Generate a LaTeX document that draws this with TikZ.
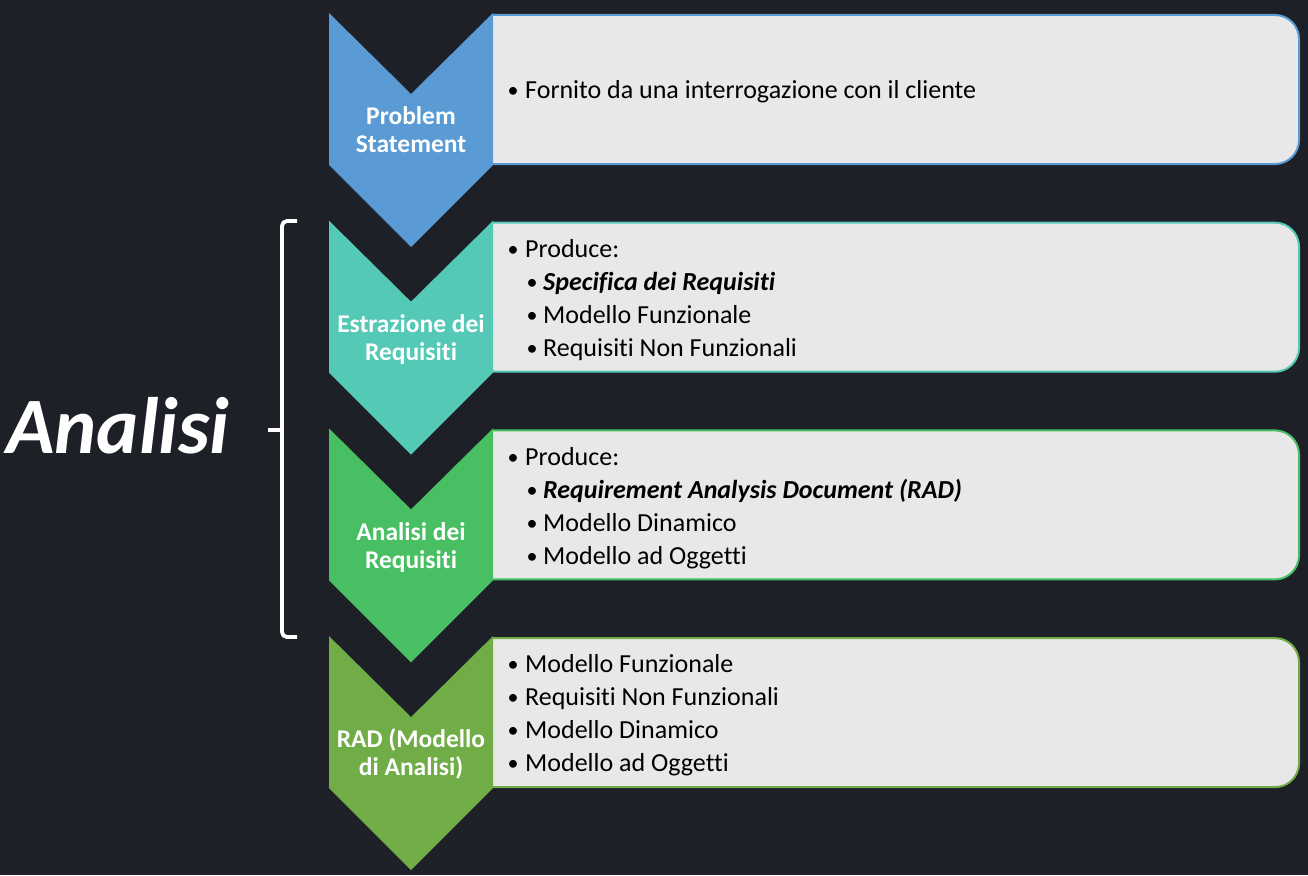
\documentclass[tikz,border=0pt]{standalone}
\usepackage{fontspec}
\setmainfont{Carlito}[Ligatures=NoCommon]
\definecolor{bgc}{HTML}{1D2027}
\definecolor{cA}{HTML}{5B9BD5}
\definecolor{cB}{HTML}{53C9B6}
\definecolor{cC}{HTML}{48BF63}
\definecolor{cD}{HTML}{70AD47}
\definecolor{boxfill}{HTML}{E8E8E8}
\tikzset{
  body/.style={inner sep=0pt, text=black, font=\fontsize{26}{33}\selectfont, anchor=base west},
  dot/.style={inner sep=0pt, text=black, font=\fontsize{22}{33}\selectfont, anchor=base},
  lab/.style={inner sep=0pt, text=white, font=\fontsize{25.5}{28}\selectfont\bfseries, anchor=base},
  bracest/.style={draw=white, line width=3.8pt, rounded corners=5pt},
}
\begin{document}
\begin{tikzpicture}[x=1pt,y=-1pt]
\useasboundingbox[fill=bgc] (0,0) rectangle (1308,875);
% boxes and chevrons
\foreach \i/\c in {0/cA,1/cB,2/cC,3/cD}{
  \pgfmathsetmacro\t{13+207.7*\i}
  \path[fill=boxfill, draw=\c, line width=2pt] (493,{\t+2}) [rounded corners=24pt] -- (1299,{\t+2}) -- (1299,{\t+151}) -- (493,{\t+151});
  \fill[\c] (329,\t) -- (411,{\t+81}) -- (493,\t) -- (493,{\t+152}) -- (411,{\t+234}) -- (329,{\t+152}) -- cycle;
}
% chevron labels
\node[lab] (l1a) at (411,124) {Problem};
\node[lab] (l1b) at (411,152) {Statement};
\node[lab] (l2a) at (411,332) {Estrazione dei};
\node[lab] (l2b) at (411,360) {Requisiti};
\node[lab] (l3a) at (411,540) {Analisi dei};
\node[lab] (l3b) at (411,568) {Requisiti};
\node[lab] (l4a) at (411,747) {RAD (Modello};
\node[lab] (l4b) at (411,775) {di Analisi)};
% box 1
\node[dot] (d1) at (513,97) {•};
\node[body] (t1) at (525,98) {Fornito da una interrogazione con il cliente};
% box 2
\node[dot] (d21) at (513,256) {•};
\node[body] (t21) at (525,257) {Produce:};
\node[dot] (d22) at (532,289) {•};
\node[body] (t22) at (543,290) {\bfseries\itshape Specifica dei Requisiti};
\node[dot] (d23) at (532,322) {•};
\node[body] (t23) at (543,323) {Modello Funzionale};
\node[dot] (d24) at (532,355) {•};
\node[body] (t24) at (543,356) {Requisiti Non Funzionali};
% box 3
\node[dot] (d31) at (513,464) {•};
\node[body] (t31) at (525,465) {Produce:};
\node[dot] (d32) at (532,497) {•};
\node[body] (t32) at (543,498) {\bfseries\itshape Requirement Analysis Document (RAD)};
\node[dot] (d33) at (532,530) {•};
\node[body] (t33) at (543,531) {Modello Dinamico};
\node[dot] (d34) at (532,563) {•};
\node[body] (t34) at (543,564) {Modello ad Oggetti};
% box 4
\node[dot] (d41) at (513,671) {•};
\node[body] (t41) at (525,672) {Modello Funzionale};
\node[dot] (d42) at (513,704) {•};
\node[body] (t42) at (525,705) {Requisiti Non Funzionali};
\node[dot] (d43) at (513,737) {•};
\node[body] (t43) at (525,738) {Modello Dinamico};
\node[dot] (d44) at (513,770) {•};
\node[body] (t44) at (525,771) {Modello ad Oggetti};
% brace
\coordinate (bt) at (297,221);
\coordinate (bb) at (297,637);
\coordinate (bm) at (268,430);
\draw[bracest] (bt) -| (282,430) |- (bb);
\draw[draw=white, line width=3.8pt] (bm) -- (282,430);
% big label
\node[inner sep=0pt, text=white, anchor=base west, font=\fontsize{80}{82}\selectfont\bfseries\itshape] (an) at (6,453) {Analisi};
\end{tikzpicture}
\end{document}
